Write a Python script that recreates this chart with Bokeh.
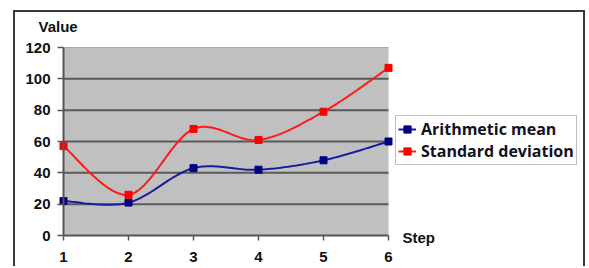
import numpy as np
from bokeh.plotting import figure
from bokeh.models import Legend, LegendItem, Label, FixedTicker
from bokeh.embed import file_html
from bokeh.resources import INLINE

steps = [1, 2, 3, 4, 5, 6]
arith_mean = [22, 21, 43, 42, 48, 60]
std_dev = [57, 26, 68, 61, 79, 107]
y_ticks = [0, 20, 40, 60, 80, 100, 120]
grid_ticks = [20, 40, 60, 80, 100]
series_names = ["Arithmetic mean", "Standard deviation"]
x_title = "Step"
y_title = "Value"


def smooth(xs, ys, n=30):
    pts = np.column_stack([xs, ys]).astype(float)
    m = len(pts)
    out = []
    for i in range(m - 1):
        p0 = pts[i - 1] if i > 0 else pts[i]
        p1, p2 = pts[i], pts[i + 1]
        p3 = pts[i + 2] if i + 2 < m else pts[i + 1]
        c1 = p1 + (p2 - p0) / 6.0
        c2 = p2 - (p3 - p1) / 6.0
        t = np.linspace(0, 1, n)[:, None]
        seg = (1 - t) ** 3 * p1 + 3 * (1 - t) ** 2 * t * c1 + 3 * (1 - t) * t ** 2 * c2 + t ** 3 * p2
        if i > 0:
            seg = seg[1:]
        out.append(seg)
    a = np.vstack(out)
    return a[:, 0], a[:, 1]


x0, x1 = steps[0], steps[-1]
y0, y1 = y_ticks[0], y_ticks[-1]

p = figure(width=572, height=256, x_range=(0.2615, 9.0615), y_range=(-21.06, 142.34),
           output_backend="svg", toolbar_location=None,
           min_border_left=0, min_border_right=0, min_border_top=0, min_border_bottom=0)
p.styles = {"margin-left": "13px", "margin-top": "10px",
            "border-left": "2px solid #3a3a3a", "border-top": "2px solid #3a3a3a",
            "border-right": "2px solid #3a3a3a"}

p.background_fill_color = "white"
p.border_fill_color = "white"
p.outline_line_color = None
p.grid.visible = False

# plot area
p.quad(left=x0, right=x1, bottom=y0, top=y1, fill_color="#c0c0c0", line_color=None)
p.segment(x0=x0, x1=x1, y0=grid_ticks, y1=grid_ticks, line_color="#5a5a5a", line_width=2)
p.segment(x0=x0, x1=x1, y0=y1, y1=y1, line_color="#a8a8a8", line_width=1)

tick_font = "Liberation Sans"
for ax in (p.xaxis[0], p.yaxis[0]):
    ax.axis_line_color = "#555555"
    ax.axis_line_width = 2
    ax.major_tick_line_color = "#555555"
    ax.major_tick_line_width = 1.5
    ax.major_tick_in = 0
    ax.minor_tick_line_color = None
    ax.major_label_text_font = tick_font
    ax.major_label_text_font_style = "bold"
    ax.major_label_text_font_size = "15px"
    ax.major_label_text_color = "#111111"

p.xaxis.ticker = FixedTicker(ticks=steps)
p.yaxis.ticker = FixedTicker(ticks=y_ticks)
p.xaxis.fixed_location = y0
p.yaxis.fixed_location = x0
p.xaxis.bounds = (x0, x1)
p.yaxis.bounds = (y0, y1)
p.xaxis.major_tick_out = 5
p.yaxis.major_tick_out = 6
p.xaxis.major_label_standoff = 11
p.yaxis.major_label_standoff = 7

mx, my = smooth(steps, arith_mean)
sx, sy = smooth(steps, std_dev)

l1 = p.line(mx, my, line_color="#1a1aa0", line_width=2)
m1 = p.scatter(steps, arith_mean, marker="square", size=7, fill_color="#000080", line_color="#000080")
l2 = p.line(sx, sy, line_color="#ff1a1a", line_width=2)
m2 = p.scatter(steps, std_dev, marker="square", size=7, fill_color="#ff0000", line_color="#ff0000")

legend = Legend(items=[LegendItem(label=series_names[0], renderers=[l1, m1]),
                       LegendItem(label=series_names[1], renderers=[l2, m2])],
                location=(380, 103))
legend.label_text_font = "Open Sans"
legend.label_text_font_style = "bold"
legend.label_text_font_size = "16px"
legend.label_text_color = "#111122"
legend.glyph_width = 18
legend.glyph_height = 20
legend.label_height = 20
legend.label_standoff = 5
legend.spacing = 0
legend.padding = 2
legend.margin = 0
legend.border_line_color = "#808080"
legend.border_line_width = 1.5
legend.background_fill_color = "white"
legend.background_fill_alpha = 1
p.add_layout(legend, "center")

p.add_layout(Label(x=0.615, y=133.4, text=y_title, text_font=tick_font, text_font_style="bold",
                   text_font_size="15px", text_baseline="alphabetic", text_align="left",
                   text_color="#111111"))
p.add_layout(Label(x=6.215, y=-1.3, text=x_title, text_font=tick_font, text_font_style="bold",
                   text_font_size="15px", text_baseline="alphabetic", text_align="left",
                   text_color="#111111"))

open("out.html", "w").write(file_html(p, INLINE))
